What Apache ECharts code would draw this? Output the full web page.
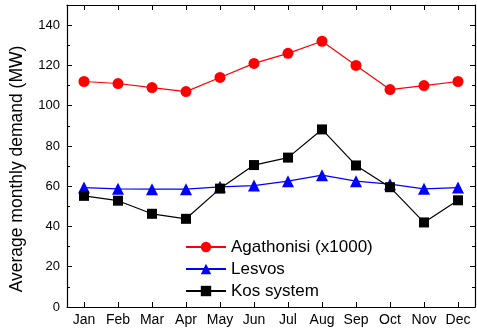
<!DOCTYPE html>
<html>
<head>
<meta charset="utf-8">
<script src="https://cdn.jsdelivr.net/npm/echarts@6/dist/echarts.min.js"></script>
<style>
html,body{margin:0;padding:0;background:#fff;}
#chart{width:477px;height:333px;}
</style>
</head>
<body>
<div id="chart"></div>
<script>
const months = ['Jan','Feb','Mar','Apr','May','Jun','Jul','Aug','Sep','Oct','Nov','Dec'];
const agathonisi = [112, 111, 109, 107, 114, 121, 126, 132, 120, 108, 110, 112];
const lesvos = [59.3, 58.7, 58.5, 58.5, 59.7, 60.3, 62.5, 65.5, 62.5, 61.0, 58.7, 59.3];
const kos = [55.2, 52.8, 46.3, 43.8, 58.8, 70.5, 74.2, 88.2, 70.3, 59.5, 42.0, 53.0];
const seriesNames = ['Agathonisi (x1000)', 'Lesvos', 'Kos system'];
const yAxisName = 'Average monthly demand (MW)';

const FONT = 'Liberation Sans';
const chart = echarts.init(document.getElementById('chart'), null, {renderer: 'canvas'});

const axisLine = {show: true, onZero: false, lineStyle: {color: '#000', width: 1.2}};
const tickIn = {show: true, inside: true, length: 5, lineStyle: {color: '#000', width: 1}};
const minorIn = {show: true, splitNumber: 2, length: 3, lineStyle: {color: '#000', width: 1}};

function mk(name, data, color, symbol, size) {
  return {
    name: name, type: 'line', data: data,
    symbol: symbol, symbolSize: size,
    lineStyle: {color: color, width: 1.2},
    itemStyle: {color: color},
    animation: false
  };
}

chart.setOption({
  animation: false,
  textStyle: {fontFamily: FONT},
  grid: {left: 66, right: 2, top: 5, bottom: 26, containLabel: false},
  legend: {
    orient: 'vertical', left: 180, top: 232,
    itemWidth: 40, itemHeight: 13, itemGap: 2,
    textStyle: {fontFamily: FONT, fontSize: 17, color: '#000', lineHeight: 20},
    data: seriesNames
  },
  xAxis: [
    {type: 'category', data: months, position: 'bottom', boundaryGap: true,
     axisLine: axisLine, axisTick: Object.assign({alignWithLabel: true, interval: 0}, tickIn),
     axisLabel: {fontFamily: FONT, fontSize: 14, color: '#000', margin: 6, interval: 0, hideOverlap: false},
     splitLine: {show: false}},
    {type: 'category', data: months, position: 'top', boundaryGap: true,
     axisLine: axisLine, axisTick: Object.assign({alignWithLabel: true, interval: 0}, tickIn),
     axisLabel: {show: false, interval: 0}, splitLine: {show: false}}
  ],
  yAxis: [
    {type: 'value', min: 0, max: 150, interval: 20, position: 'left',
     name: yAxisName, nameLocation: 'middle', nameGap: 41,
     nameTextStyle: {fontFamily: FONT, fontSize: 17.5, color: '#000', padding: [0, 26, 0, 0]},
     axisLine: axisLine, axisTick: tickIn, minorTick: minorIn,
     axisLabel: {fontFamily: FONT, fontSize: 13, color: '#000', margin: 7, showMaxLabel: false},
     splitLine: {show: false}, minorSplitLine: {show: false}},
    {type: 'value', min: 0, max: 150, interval: 20, position: 'right',
     axisLine: axisLine, axisTick: tickIn, minorTick: minorIn,
     axisLabel: {show: false}, splitLine: {show: false}}
  ],
  series: [
    mk(seriesNames[0], agathonisi, '#ff0000', 'circle', 11),
    mk(seriesNames[1], lesvos, '#0000ff', 'triangle', 12),
    mk(seriesNames[2], kos, '#000000', 'rect', 10)
  ]
});
</script>
</body>
</html>
